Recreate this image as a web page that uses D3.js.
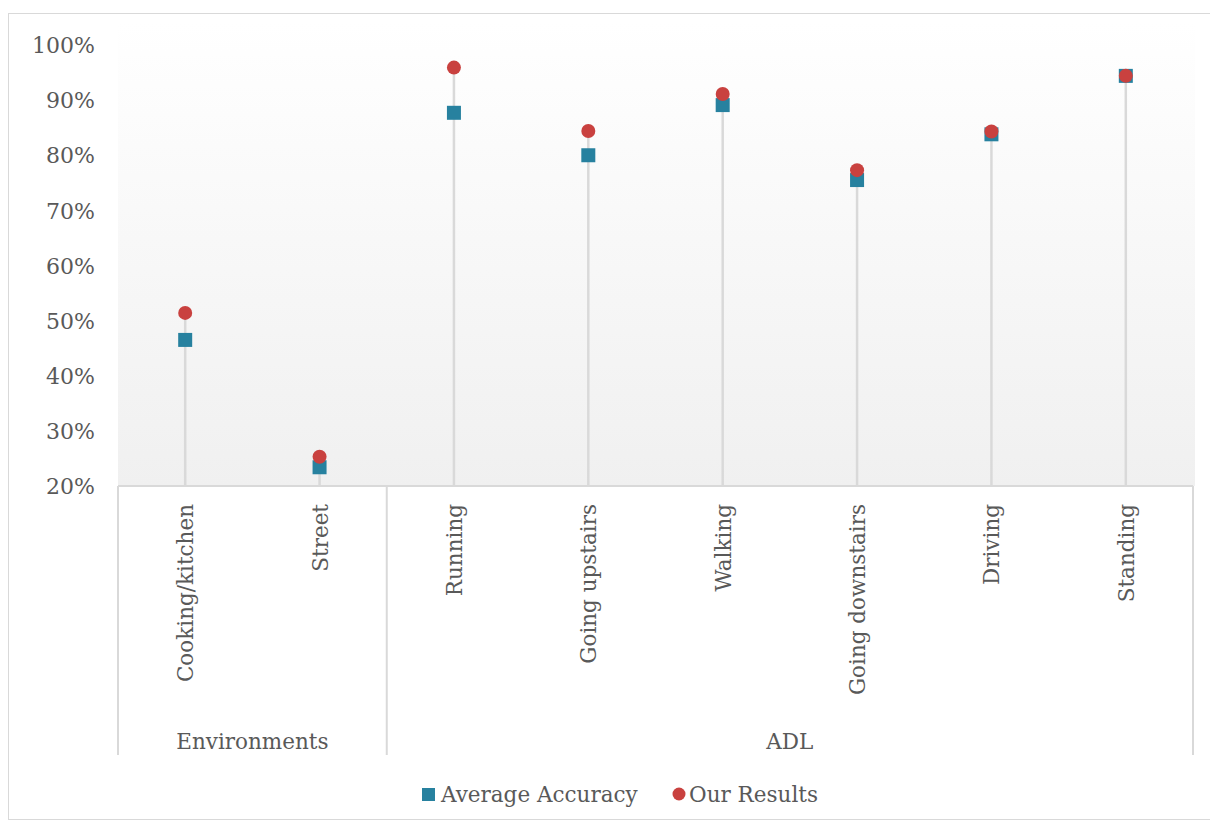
<!DOCTYPE html>
<html>
<head>
<meta charset="utf-8">
<script src="https://cdn.jsdelivr.net/npm/d3@7"></script>
<style>
  body { margin: 0; background: #fff; }
  svg text { font-family: "DejaVu Serif", "Liberation Serif", serif; fill: #595959; }
</style>
</head>
<body>
<div id="chart"></div>
<script>
var categories = ["Cooking/kitchen", "Street", "Running", "Going upstairs", "Walking", "Going downstairs", "Driving", "Standing"];
var groups = [
  { name: "Environments", from: 0, to: 1 },
  { name: "ADL", from: 2, to: 7 }
];
var averageAccuracy = [0.465, 0.234, 0.877, 0.80, 0.891, 0.755, 0.838, 0.944];
var ourResults = [0.514, 0.253, 0.959, 0.844, 0.911, 0.773, 0.843, 0.944];
var yTicks = [0.2, 0.3, 0.4, 0.5, 0.6, 0.7, 0.8, 0.9, 1.0];

var w = 1210;
var h = 823;
var plotLeft = 118, plotRight = 1193, plotTop = 45, plotBottom = 486;
var fontSize = "21.5px";

var svg = d3.select("#chart")
  .append("svg")
  .attr("width", w)
  .attr("height", h);

// outer chart border
svg.append("rect")
  .attr("x", 8.5).attr("y", 13.5)
  .attr("width", w).attr("height", 806)
  .attr("fill", "none")
  .attr("stroke", "#d9d9d9");

var xScale = d3.scaleBand()
  .domain(categories)
  .range([plotLeft, plotRight]);

var yScale = d3.scaleLinear()
  .domain([0.2, 1.0])
  .range([plotBottom, plotTop]);

function cx(i) { return xScale(categories[i]) + xScale.bandwidth() / 2; }

// plot background gradient
var grad = svg.append("defs").append("linearGradient")
  .attr("id", "bg").attr("x1", 0).attr("y1", 0).attr("x2", 0).attr("y2", 1);
grad.append("stop").attr("offset", "0%").attr("stop-color", "#ffffff");
grad.append("stop").attr("offset", "100%").attr("stop-color", "#f0f0f0");

svg.append("rect")
  .attr("x", plotLeft).attr("y", 22)
  .attr("width", plotRight - plotLeft + 2).attr("height", plotBottom - 22)
  .attr("fill", "url(#bg)");

// y axis labels
var yAxis = d3.axisLeft(yScale)
  .tickValues(yTicks)
  .tickFormat(d3.format(".0%"))
  .tickSize(0)
  .tickPadding(0);

var gy = svg.append("g")
  .attr("transform", "translate(95,0)")
  .call(yAxis);
gy.select(".domain").remove();
gy.attr("font-family", null).attr("font-size", null);
gy.selectAll("text")
  .style("font-size", "22px")
  .attr("dy", "0.35em");

// stems
svg.selectAll(".stem")
  .data(categories)
  .enter()
  .append("line")
  .attr("class", "stem")
  .attr("x1", function(d, i) { return cx(i); })
  .attr("x2", function(d, i) { return cx(i); })
  .attr("y1", yScale(0.2))
  .attr("y2", function(d, i) { return yScale(Math.max(averageAccuracy[i], ourResults[i])); })
  .attr("stroke", "#d9d9d9")
  .attr("stroke-width", 2.5);

// x axis line and group separators
svg.append("line")
  .attr("x1", plotLeft).attr("x2", plotRight)
  .attr("y1", plotBottom).attr("y2", plotBottom)
  .attr("stroke", "#d9d9d9").attr("stroke-width", 2);

var seps = [plotLeft, xScale(categories[2]), plotRight];
svg.selectAll(".sep")
  .data(seps)
  .enter()
  .append("line")
  .attr("class", "sep")
  .attr("x1", function(d) { return d; })
  .attr("x2", function(d) { return d; })
  .attr("y1", plotBottom)
  .attr("y2", 755)
  .attr("stroke", "#d9d9d9").attr("stroke-width", 2);

// category labels
svg.selectAll(".cat")
  .data(categories)
  .enter()
  .append("text")
  .attr("class", "cat")
  .attr("text-anchor", "end")
  .attr("transform", function(d, i) {
    return "translate(" + (cx(i) + 8) + ",504) rotate(-90)";
  })
  .style("font-size", fontSize)
  .text(function(d) { return d; });

// group labels
svg.selectAll(".grp")
  .data(groups)
  .enter()
  .append("text")
  .attr("class", "grp")
  .attr("text-anchor", "middle")
  .attr("x", function(d) {
    return (xScale(categories[d.from]) + xScale(categories[d.to]) + xScale.bandwidth()) / 2;
  })
  .attr("y", 749)
  .style("font-size", fontSize)
  .text(function(d) { return d.name; });

// series markers
var size = 14;
svg.selectAll(".avg")
  .data(averageAccuracy)
  .enter()
  .append("rect")
  .attr("class", "avg")
  .attr("x", function(d, i) { return cx(i) - size / 2; })
  .attr("y", function(d) { return yScale(d) - size / 2; })
  .attr("width", size)
  .attr("height", size)
  .attr("fill", "#27819f");

svg.selectAll(".ours")
  .data(ourResults)
  .enter()
  .append("circle")
  .attr("class", "ours")
  .attr("cx", function(d, i) { return cx(i); })
  .attr("cy", function(d) { return yScale(d); })
  .attr("r", 7)
  .attr("fill", "#c9413f");

// legend
var legend = svg.append("g");
legend.append("rect")
  .attr("x", 422).attr("y", 788)
  .attr("width", 13).attr("height", 13)
  .attr("fill", "#27819f");
legend.append("text")
  .attr("x", 441).attr("y", 802)
  .style("font-size", fontSize)
  .text("Average Accuracy");
legend.append("circle")
  .attr("cx", 679).attr("cy", 794)
  .attr("r", 6.5)
  .attr("fill", "#c9413f");
legend.append("text")
  .attr("x", 689).attr("y", 802)
  .style("font-size", fontSize)
  .text("Our Results");
</script>
</body>
</html>
